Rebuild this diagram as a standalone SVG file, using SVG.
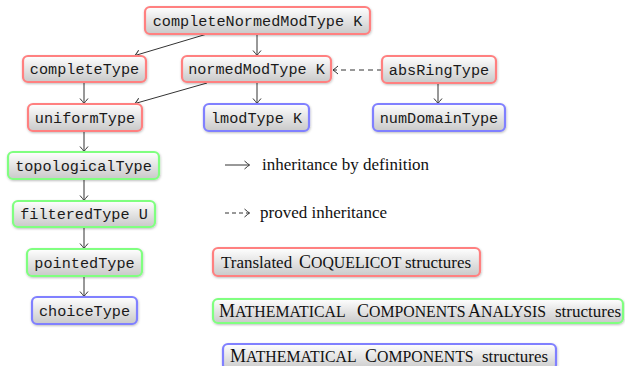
<svg xmlns="http://www.w3.org/2000/svg" width="625" height="366" viewBox="0 0 625 366">
<style>
.box{fill:url(#g);stroke-width:2.2;filter:url(#sh)}
.r{stroke:#ff8080}.gr{stroke:#80ff80}.b{stroke:#8080ff}
.t{font-family:"Liberation Mono","DejaVu Sans Mono",monospace;font-size:15.2px;fill:#1a1a1a;text-anchor:middle}
.s{font-family:"Liberation Serif","Times New Roman",serif;font-size:17px;fill:#111}
.C{font-size:18px}.k{font-size:15.8px}
.c{stroke:#333;stroke-width:1;fill:none;marker-end:url(#ah)}
.d{stroke-dasharray:5,4}
</style>
<defs>
<linearGradient id="g" x1="0" y1="0" x2="0" y2="1">
<stop offset="0" stop-color="#ffffff"/>
<stop offset="1" stop-color="#c9c9c9"/>
</linearGradient>
<filter id="sh" x="-10%" y="-20%" width="120%" height="150%">
<feDropShadow dx="0.5" dy="1" stdDeviation="0.8" flood-color="#000" flood-opacity="0.25"/>
</filter>
<marker id="ah" markerWidth="10" markerHeight="10" refX="0" refY="0" viewBox="-6 -5 8 10" orient="auto" markerUnits="userSpaceOnUse">
<path d="M-5,-4 Q-1.5,-1 0,0 Q-1.5,1 -5,4" fill="none" stroke="#333" stroke-width="1"/>
</marker>
</defs>
<g id="connectors">
<path class="c" d="M207,34 L135,55.5"/>
<path class="c" d="M257,34 V55.5"/>
<path class="c" d="M84,82 V103.5"/>
<path class="c" d="M207,83 L135,103.5"/>
<path class="c" d="M257,83 V103.5"/>
<path class="c d" d="M382,70 H333"/>
<path class="c" d="M438,83 V103.5"/>
<path class="c" d="M84,131 V151.5"/>
<path class="c" d="M84,179 V200.5"/>
<path class="c" d="M84,227 V248.5"/>
<path class="c" d="M84,276 V296.5"/>
</g>
<g id="n-completeNormedModType"><rect class="box r" x="145" y="7" width="225" height="27" rx="5"/><text class="t" x="257.5" y="25.5">completeNormedModType K</text></g>
<g id="n-completeType"><rect class="box r" x="23" y="56" width="123" height="26" rx="5"/><text class="t" x="84.5" y="74">completeType</text></g>
<g id="n-normedModType"><rect class="box r" x="182" y="56" width="149" height="26" rx="5"/><text class="t" x="256.5" y="74">normedModType K</text></g>
<g id="n-absRingType"><rect class="box r" x="382" y="56" width="114" height="27" rx="5"/><text class="t" x="439" y="74.5">absRingType</text></g>
<g id="n-uniformType"><rect class="box r" x="28" y="104" width="114" height="27" rx="5"/><text class="t" x="85" y="122.5">uniformType</text></g>
<g id="n-lmodType"><rect class="box b" x="204" y="104" width="105" height="27" rx="5"/><text class="t" x="256.5" y="122.5">lmodType K</text></g>
<g id="n-numDomainType"><rect class="box b" x="373" y="104" width="132" height="27" rx="5"/><text class="t" x="439" y="122.5">numDomainType</text></g>
<g id="n-topologicalType"><rect class="box gr" x="8" y="152" width="151" height="27" rx="5"/><text class="t" x="83.5" y="170.5">topologicalType</text></g>
<g id="n-filteredType"><rect class="box gr" x="13" y="201" width="142" height="26" rx="5"/><text class="t" x="84" y="219">filteredType U</text></g>
<g id="n-pointedType"><rect class="box gr" x="27" y="249" width="115" height="27" rx="5"/><text class="t" x="84.5" y="267.5">pointedType</text></g>
<g id="n-choiceType"><rect class="box b" x="32" y="297" width="105" height="27" rx="5"/><text class="t" x="84.5" y="315.5">choiceType</text></g>
<g id="legend">
<path class="c" d="M225,165 H249.5"/>
<text class="s" x="262" y="170">inheritance by definition</text>
<path class="c d" d="M225,213 H249.5" style="stroke-dasharray:4,3"/>
<text class="s" x="260" y="218">proved inheritance</text>
<g id="l-coq"><rect class="box r" x="213" y="248" width="267" height="28" rx="5"/>
<text class="s" y="267.5"><tspan x="221">Translated</tspan><tspan x="299" class="C">C</tspan><tspan class="k">OQUELICOT</tspan><tspan x="405">structures</tspan></text></g>
<g id="l-mca"><rect class="box gr" x="213" y="299" width="410" height="24" rx="5"/>
<text class="s" y="316.5"><tspan x="219" class="C">M</tspan><tspan class="k">ATHEMATICAL</tspan><tspan x="357" class="C">C</tspan><tspan class="k">OMPONENTS</tspan><tspan x="468" class="C">A</tspan><tspan class="k">NALYSIS</tspan><tspan x="555">structures</tspan></text></g>
<g id="l-mc"><rect class="box b" x="223" y="344" width="333" height="26" rx="5"/>
<text class="s" y="362"><tspan x="230" class="C">M</tspan><tspan class="k">ATHEMATICAL</tspan><tspan x="365" class="C">C</tspan><tspan class="k">OMPONENTS</tspan><tspan x="482">structures</tspan></text></g>
</g>
</svg>
